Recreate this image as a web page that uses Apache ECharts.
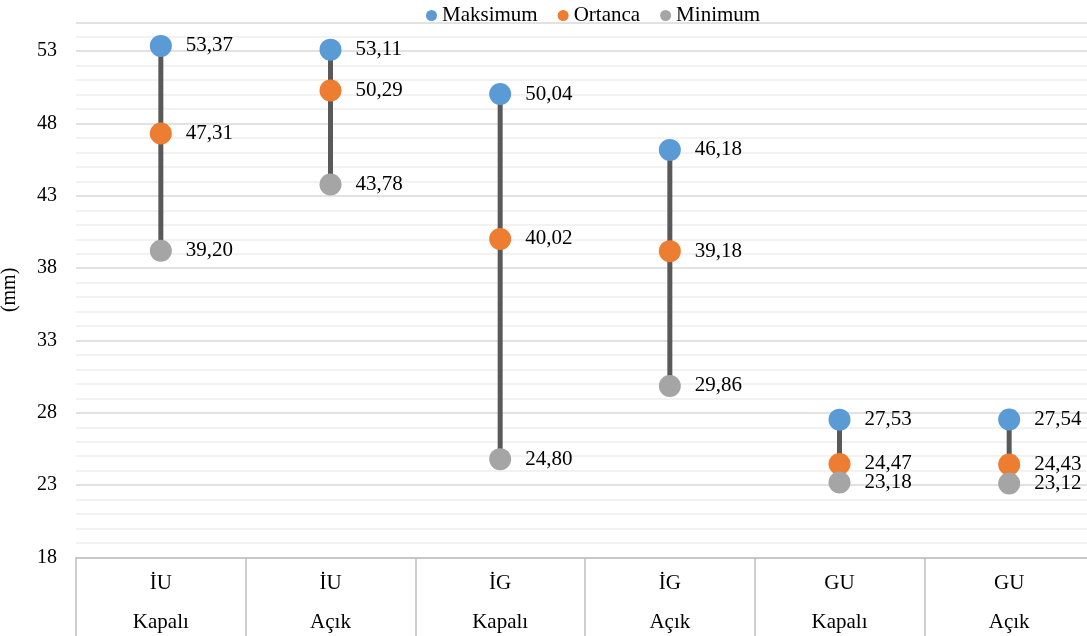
<!DOCTYPE html>
<html>
<head>
<meta charset="utf-8">
<script src="https://cdn.jsdelivr.net/npm/echarts@6/dist/echarts.min.js"></script>
<style>
  html, body { margin: 0; padding: 0; background: #ffffff; }
  #chart { width: 1087px; height: 636px; }
</style>
</head>
<body>
<div id="chart"></div>
<script>
// Groups (top line) and door state (bottom line) for each category
const groups = ['İU', 'İU', 'İG', 'İG', 'GU', 'GU'];
const states = ['Kapalı', 'Açık', 'Kapalı', 'Açık', 'Kapalı', 'Açık'];

// Measured values in mm
const maksimum = [53.37, 53.11, 50.04, 46.18, 27.53, 27.54];
const ortanca  = [47.31, 50.29, 40.02, 39.18, 24.47, 24.43];
const minimum  = [39.20, 43.78, 24.80, 29.86, 23.18, 23.12];

// Value axis ticks
const yMin = 18;
const yMax = 55;
const yStep = 5;

const categories = groups.map((g, i) => g + '|' + states[i]);
const FONT = '"Liberation Serif", "Times New Roman", serif';
const TEXT = '#000000';

const fmt = v => v.toFixed(2).replace('.', ',');

const pointLabel = {
  show: true,
  position: 'right',
  distance: 14,
  fontFamily: FONT,
  fontSize: 21,
  color: TEXT,
  formatter: p => fmt(p.value)
};

// Vertical range bar from minimum to maximum of each category
const rangeData = categories.map((c, i) => [i, minimum[i], maksimum[i]]);

const chart = echarts.init(document.getElementById('chart'), null, { renderer: 'canvas' });

chart.setOption({
  animation: false,
  backgroundColor: '#ffffff',
  textStyle: { fontFamily: FONT },
  legend: {
    top: 5,
    left: 426,
    data: ['Maksimum', 'Ortanca', 'Minimum'],
    icon: 'circle',
    itemWidth: 11,
    itemHeight: 11,
    itemGap: 20,
    padding: 0,
    textStyle: { fontFamily: FONT, fontSize: 21, color: TEXT }
  },
  grid: {
    left: 76,
    top: 22.3,
    width: 1018,
    bottom: 78.5,
    outerBoundsMode: 'none',
    containLabel: false
  },
  xAxis: {
    type: 'category',
    data: categories,
    boundaryGap: true,
    axisLine: { show: true, lineStyle: { color: '#bfbfbf', width: 1.5 } },
    axisTick: {
      show: true,
      interval: 0,
      alignWithLabel: false,
      length: 80,
      lineStyle: { color: '#bfbfbf', width: 1.5 }
    },
    axisLabel: {
      interval: 0,
      margin: 6,
      formatter: v => {
        const parts = v.split('|');
        return '{g|' + parts[0] + '}\n{s|' + parts[1] + '}';
      },
      rich: {
        g: { fontFamily: FONT, fontSize: 21, color: TEXT, lineHeight: 39 },
        s: { fontFamily: FONT, fontSize: 21, color: TEXT, lineHeight: 39 }
      }
    },
    splitLine: { show: false }
  },
  yAxis: {
    type: 'value',
    min: yMin,
    max: yMax,
    interval: yStep,
    name: '(mm)',
    nameLocation: 'middle',
    nameGap: 56,
    nameRotate: 90,
    nameTextStyle: { fontFamily: FONT, fontSize: 20, color: TEXT },
    axisLine: { show: false },
    axisTick: { show: false },
    axisLabel: {
      margin: 19,
      fontFamily: FONT,
      fontSize: 20,
      color: TEXT,
      showMaxLabel: false,
      formatter: v => (v > 53 ? '' : String(v))
    },
    splitLine: { show: true, lineStyle: { color: '#d9d9d9', width: 1.5 } },
    minorTick: { show: false, splitNumber: 5 },
    minorSplitLine: { show: true, lineStyle: { color: '#eeeeee', width: 1.5 } }
  },
  series: [
    {
      name: 'Aralık',
      type: 'custom',
      silent: true,
      z: 1,
      encode: { x: 0, y: [1, 2] },
      data: rangeData,
      renderItem: (params, api) => {
        const low = api.coord([api.value(0), api.value(1)]);
        const high = api.coord([api.value(0), api.value(2)]);
        return {
          type: 'line',
          shape: { x1: low[0], y1: low[1], x2: high[0], y2: high[1] },
          style: { stroke: '#595959', lineWidth: 5 }
        };
      }
    },
    {
      name: 'Maksimum',
      type: 'scatter',
      z: 3,
      symbol: 'circle',
      symbolSize: 22,
      itemStyle: { color: '#5b9bd5', opacity: 1 },
      label: pointLabel,
      data: maksimum
    },
    {
      name: 'Ortanca',
      type: 'scatter',
      z: 4,
      symbol: 'circle',
      symbolSize: 22,
      itemStyle: { color: '#ed7d31', opacity: 1 },
      label: pointLabel,
      data: ortanca
    },
    {
      name: 'Minimum',
      type: 'scatter',
      z: 5,
      symbol: 'circle',
      symbolSize: 22,
      itemStyle: { color: '#a5a5a5', opacity: 1 },
      label: pointLabel,
      data: minimum
    }
  ]
});
</script>
</body>
</html>
